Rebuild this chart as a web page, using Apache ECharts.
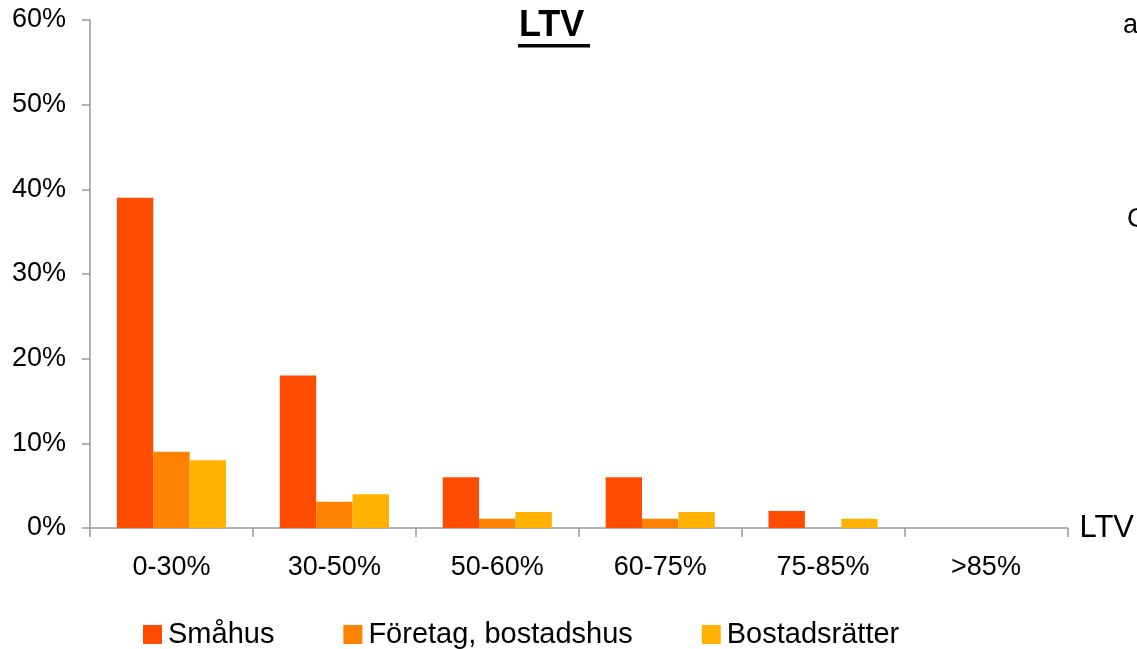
<!DOCTYPE html>
<html>
<head>
<meta charset="utf-8">
<script src="https://cdn.jsdelivr.net/npm/echarts@6/dist/echarts.min.js"></script>
<style>
html,body{margin:0;padding:0;background:#fff;}
#chart{width:1137px;height:649px;}
</style>
</head>
<body>
<div id="chart"></div>
<script>
var categories = ['0-30%', '30-50%', '50-60%', '60-75%', '75-85%', '>85%'];
var seriesNames = ['Småhus', 'Företag, bostadshus', 'Bostadsrätter'];
var smahus = [39, 18, 6, 6, 2, 0];
var foretag = [9, 3.1, 1.1, 1.1, 0, 0];
var bostadsratter = [8, 4, 1.9, 1.9, 1.1, 0];
var yTicks = [0, 10, 20, 30, 40, 50, 60];
var titleText = 'LTV';
var axisName = 'LTV';
var sideTexts = ['a', 'C'];

var FONT = '"Liberation Sans", Arial, sans-serif';
var colors = ['#FF4C00', '#FF8200', '#FFB300'];

var chart = echarts.init(document.getElementById('chart'), null, {renderer: 'canvas'});
var option = {
  animation: false,
  backgroundColor: '#fff',
  color: colors,
  title: {
    text: titleText,
    left: 519,
    top: 8,
    padding: 0,
    textStyle: {fontFamily: FONT, fontSize: 36, fontWeight: 'bold', color: '#000'}
  },
  graphic: [
    {type: 'rect', shape: {x: 518, y: 44, width: 72, height: 3.5}, style: {fill: '#000'}},
    {type: 'text', left: 1123, top: 12, style: {text: sideTexts[0], font: '27px ' + FONT, fill: '#000'}},
    {type: 'text', left: 1127, top: 206, style: {text: sideTexts[1], font: '27px ' + FONT, fill: '#000'}}
  ],
  legend: {
    data: seriesNames,
    left: 143,
    top: 620,
    padding: 0,
    itemWidth: 19,
    itemHeight: 19,
    itemGap: 69,
    icon: 'rect',
    textStyle: {fontFamily: FONT, fontSize: 29, color: '#000', padding: [0, 0, 0, 1]}
  },
  grid: {left: 90, right: 68, top: 20, bottom: 121, containLabel: false},
  xAxis: {
    type: 'category',
    data: categories,
    boundaryGap: true,
    name: axisName,
    nameLocation: 'end',
    nameGap: 12,
    nameTextStyle: {fontFamily: FONT, fontSize: 31, color: '#000', padding: [4, 0, 0, 0]},
    axisLine: {show: true, lineStyle: {color: '#999', width: 1.5}},
    axisTick: {show: true, alignWithLabel: false, length: 9, lineStyle: {color: '#999', width: 1.5}},
    axisLabel: {fontFamily: FONT, fontSize: 27, color: '#000', margin: 26},
    splitLine: {show: false}
  },
  yAxis: {
    type: 'value',
    min: yTicks[0],
    max: yTicks[yTicks.length - 1],
    interval: yTicks[1] - yTicks[0],
    axisLine: {show: true, lineStyle: {color: '#999', width: 1.5}},
    axisTick: {show: true, inside: false, length: 8, lineStyle: {color: '#999', width: 1.5}},
    axisLabel: {fontFamily: FONT, fontSize: 27, color: '#000', margin: 24, formatter: '{value}%'},
    splitLine: {show: false}
  },
  series: [
    {name: seriesNames[0], type: 'bar', data: smahus, barGap: '0%', barCategoryGap: '33%'},
    {name: seriesNames[1], type: 'bar', data: foretag, barGap: '0%', barCategoryGap: '33%'},
    {name: seriesNames[2], type: 'bar', data: bostadsratter, barGap: '0%', barCategoryGap: '33%'}
  ]
};
chart.setOption(option);
</script>
</body>
</html>
